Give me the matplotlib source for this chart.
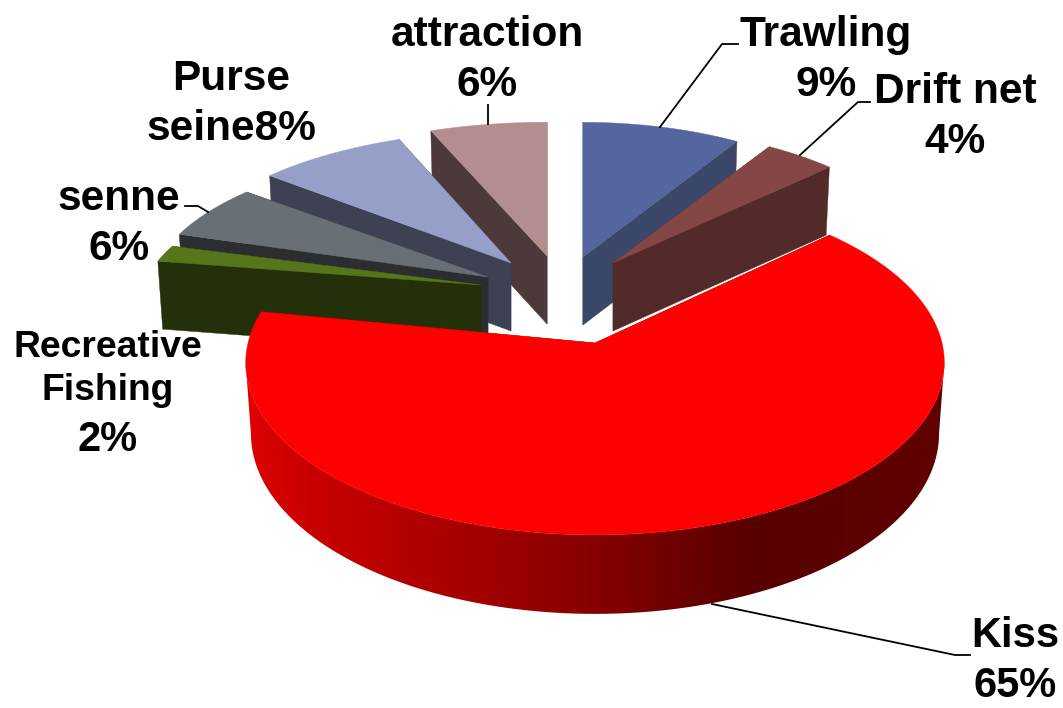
#!/usr/bin/env python

import numpy as np
import matplotlib
matplotlib.use('Agg')
import matplotlib.pyplot as plt
from matplotlib.colors import LinearSegmentedColormap
from matplotlib.patches import Polygon

# -------------------- Data --------------------

names = ['Trawling', 'Drift net', 'Kiss', 'Recreative', 'senne', 'Purse', 'attraction']
values = [9, 4, 65, 2, 6, 8, 6]
labels = ['Trawling\n9%', 'Drift net\n4%', 'Kiss\n65%', 'Recreative\nFishing',
          'senne\n6%', 'Purse\nseine8%', 'attraction\n6%', '2%']

# -------------------- Layout --------------------

top_colors = ['#54659f', '#854646', '#ff0000', '#57751a', '#687075', '#959fc7', '#b48e8e']
wall_colors = ['#3a4769', '#522a2a', '#8c0000', '#243009', '#2a2e30', '#3e4054', '#4c3939']

CENTER = (565, 300)
PERSP = 0.114      # how much the far side of the pie shrinks
LOWER = 0.985      # the underside is a little narrower

# explosion of each slice in pixels, its horizontal / vertical radius and height
explode_x = [18, 48, 30, -84, -77, -54, -18]
explode_y = [-43, -37, 43, -15, -23, -37, -44]
radius_x = [315, 320, 347, 336, 336, 336, 349]
radius_y = [150, 151, 170, 130, 143, 147, 149]
thick = [68, 68, 70, 68, 68, 68, 68]

draw_order = [0, 6, 1, 5, 4, 3, 2]

label_x = [826, 955, 1015, 108, 119, 231, 487, 108]
label_y = [60, 117, 661, 369, 224, 104, 60, 440]
label_size = [30.5, 30.5, 30, 26.8, 30.5, 30.5, 30.5, 30]

leaders = [
    ([660, 722, 738], [127, 44, 44]),
    ([800, 858, 870], [155, 102, 102]),
    ([712, 955, 970], [604, 655, 655]),
    ([185, 198, 208], [206, 206, 212]),
    ([488, 488], [124, 105]),
]

# colours of the Kiss side wall, from left to right on screen
grad_x = [245, 300, 450, 600, 750, 945]
grad_r = [0.87, 0.80, 0.66, 0.52, 0.34, 0.38]

# -------------------- Projection --------------------

def project(i, angles, lower=False):
    # angles in radians, clockwise from the top of the pie
    xs = np.sin(angles)
    ys = np.cos(angles)
    w = 1 + PERSP * ys
    ax = CENTER[0] + explode_x[i]
    ay = CENTER[1] + explode_y[i]
    px = radius_x[i] * xs / w
    py = -radius_y[i] * ys / w
    if lower:
        return ax + px * LOWER, ay + py + thick[i] / np.minimum(w, 1)
    return ax + px, ay + py

def apex(i, lower=False):
    ax = CENTER[0] + explode_x[i]
    ay = CENTER[1] + explode_y[i]
    if lower:
        return ax, ay + thick[i]
    return ax, ay

def slice_angles():
    edges = np.cumsum([0] + values) / sum(values) * 2 * np.pi
    return edges[:-1], edges[1:]

# -------------------- Drawing --------------------

def drawWall(ax, i, angle):
    tx, ty = project(i, np.array([angle]))
    bx, by = project(i, np.array([angle]), lower=True)
    ax0, ay0 = apex(i)
    ax1, ay1 = apex(i, lower=True)
    ax.fill([ax0, tx[0], bx[0], ax1], [ay0, ty[0], by[0], ay1],
            color=wall_colors[i], lw=0.3)

def drawGradientWall(ax, i, start, end):
    ts = np.linspace(start, end, 800)
    ts = ts[np.cos(ts) < -PERSP]   # between the left and right extremes of the ellipse
    tx, ty = project(i, ts)
    bx, by = project(i, ts, lower=True)
    outline = np.c_[np.r_[tx, bx[::-1]], np.r_[ty, by[::-1]]]

    # gradient image, clipped to the wall
    span = np.linspace(grad_x[0], grad_x[-1], 700)
    reds = np.interp(span, grad_x, grad_r)
    cmap = LinearSegmentedColormap.from_list('wall', ['black', 'red'])
    im = ax.imshow(reds[np.newaxis, :], cmap=cmap, vmin=0, vmax=1, aspect='auto',
                   extent=(grad_x[0], grad_x[-1], 700, 300), zorder=1)
    im.set_clip_path(Polygon(outline, closed=True, transform=ax.transData))
    return im

def drawSlice(ax, i, start, end):
    drawWall(ax, i, start)
    drawWall(ax, i, end)
    if values[i] > 50:
        drawGradientWall(ax, i, start, end)

    ts = np.linspace(start, end, 200)
    tx, ty = project(i, ts)
    ax0, ay0 = apex(i)
    ax.fill(np.r_[ax0, tx], np.r_[ay0, ty], color=top_colors[i], lw=0.3)

def main():
    plt.rcParams['font.family'] = ['Liberation Sans', 'DejaVu Sans']

    fig = plt.figure(figsize=(10.63, 7.08), dpi=100)
    ax = fig.add_axes([0, 0, 1, 1])
    ax.axis('off')

    starts, ends = slice_angles()
    for i in draw_order:
        drawSlice(ax, i, starts[i], ends[i])

    ax.set_xlim(0, 1063)
    ax.set_ylim(708, 0)

    for xs, ys in leaders:
        ax.plot(xs, ys, color='black', lw=1.3)

    for i in range(len(labels)):
        ax.text(label_x[i], label_y[i], labels[i], fontsize=label_size[i], fontweight='bold',
                ha='center', va='center', linespacing=1.32, color='black')

    fig.savefig('out.png', dpi=100)

if __name__ == "__main__":
    main()
